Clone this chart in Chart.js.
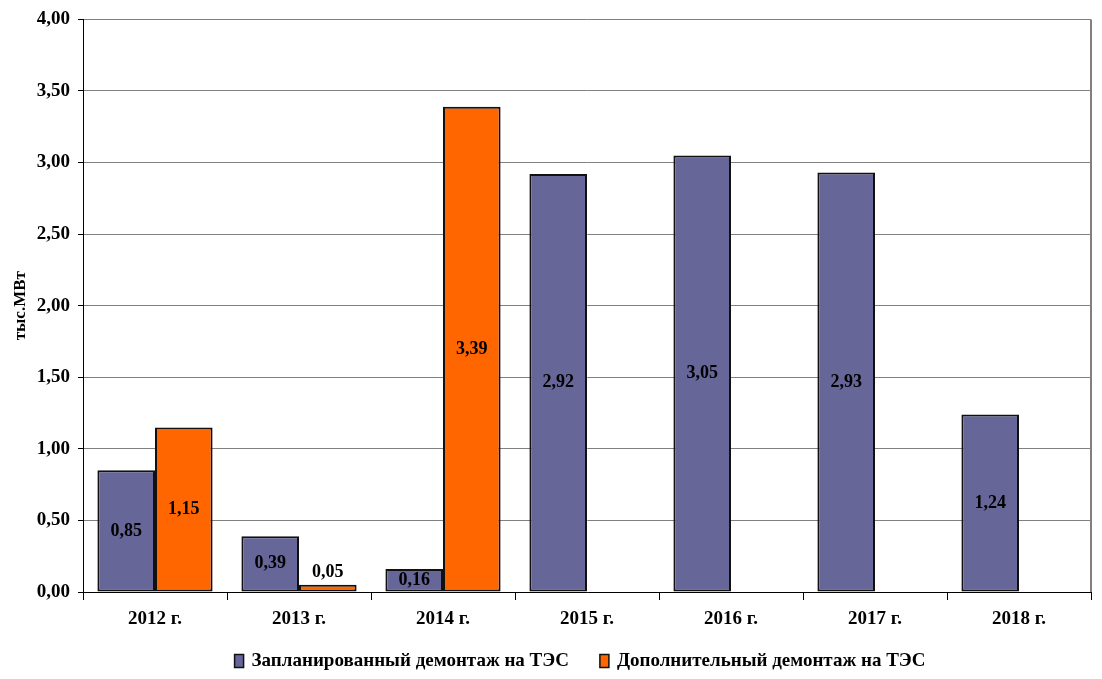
<!DOCTYPE html>
<html><head><meta charset="utf-8">
<script src="https://cdn.jsdelivr.net/npm/chart.js@4/dist/chart.umd.min.js"></script>
<style>html,body{margin:0;padding:0;background:#fff}#wrap{width:1102px;height:679px}</style>
</head><body><div id="wrap"><canvas id="c"></canvas></div>
<script>
const categories = ["2012 г.","2013 г.","2014 г.","2015 г.","2016 г.","2017 г.","2018 г."];
const plannedValues = [0.85,0.39,0.16,2.92,3.05,2.93,1.24];
const extraValues = [1.15,0.05,3.39,null,null,null,null];
const seriesNames = ["Запланированный демонтаж на ТЭС","Дополнительный демонтаж на ТЭС"];
const yTitle = "тыс.МВт";

const fmt = v => v.toFixed(2).replace('.', ',');
const FONT = "'Liberation Serif','Times New Roman',serif";

const labelPlugin = {
  id:'labels',
  afterDatasetsDraw(chart){
    const ctx = chart.ctx;
    ctx.save();
    ctx.font = "bold 18px " + FONT;
    ctx.fillStyle = "#000";
    ctx.textAlign = "center";
    chart.data.datasets.forEach((ds,i)=>{
      const meta = chart.getDatasetMeta(i);
      meta.data.forEach((bar,j)=>{
        const v = ds.data[j];
        if (v==null) return;
        const h = bar.base - bar.y;
        let y;
        if (h < 20) { ctx.textBaseline="bottom"; y = bar.y - 3; }
        else { ctx.textBaseline="middle"; y = (bar.y+bar.base)/2; }
        ctx.fillText(fmt(v), bar.x, y);
      });
    });
    ctx.restore();
  }
};
const borderPlugin = {
  id:'rb',
  afterDraw(chart){
    const a = chart.chartArea, ctx = chart.ctx;
    ctx.save();
    ctx.strokeStyle="#808080"; ctx.lineWidth=2;
    ctx.beginPath(); ctx.moveTo(a.right, a.top); ctx.lineTo(a.right, a.bottom); ctx.stroke();
    ctx.restore();
  }
};
const legendPlugin = {
  id:'customLegend',
  afterDraw(chart){
    const ctx = chart.ctx, a = chart.chartArea;
    ctx.save();
    ctx.font = "bold 19px " + FONT;
    ctx.textBaseline = "middle";
    ctx.textAlign = "left";
    const boxW = 9, boxH = 13, gap = 8, spacing = 31;
    const items = chart.data.datasets.map(ds => ({text: ds.label, color: ds.backgroundColor, w: ctx.measureText(ds.label).width}));
    let total = 0;
    items.forEach((it,i)=>{ total += boxW + gap + it.w + (i? spacing:0); });
    let x = (a.left + a.right)/2 - 7 - total/2;
    const yc = 661;
    items.forEach((it)=>{
      ctx.fillStyle = it.color;
      ctx.fillRect(x, yc - boxH/2, boxW, boxH);
      ctx.strokeStyle = "#111"; ctx.lineWidth = 1.5;
      ctx.strokeRect(x, yc - boxH/2, boxW, boxH);
      ctx.fillStyle = "#000";
      ctx.fillText(it.text, x + boxW + gap, yc);
      x += boxW + gap + it.w + spacing;
    });
    ctx.restore();
  }
};

new Chart(document.getElementById('c'), {
  type:'bar',
  data:{
    labels: categories,
    datasets:[
      {label:seriesNames[0], data:plannedValues, backgroundColor:"#666699", borderColor:"#111", borderWidth:2, borderSkipped:false},
      {label:seriesNames[1], data:extraValues, backgroundColor:"#FF6600", borderColor:"#111", borderWidth:2, borderSkipped:false}
    ]
  },
  options:{
    responsive:true, maintainAspectRatio:false, animation:false,
    layout:{padding:{left:10,right:11,top:18,bottom:37}},
    datasets:{bar:{categoryPercentage:0.8,barPercentage:1.0}},
    plugins:{
      legend:{display:false},
      tooltip:{enabled:false}
    },
    scales:{
      x:{
        afterFit(s){ s.height = 50; },
        grid:{display:true,drawOnChartArea:false,color:'#000',tickLength:8,offset:true},
        border:{color:'#000',width:1},
        ticks:{font:{family:FONT,size:19,weight:'bold'},color:'#000',padding:8}
      },
      y:{
        min:0,max:4,
        afterFit(s){ s.width = 73; },
        grid:{color:'#808080',tickColor:'#000',tickLength:5},
        border:{color:'#000',width:1},
        ticks:{stepSize:0.5,callback:v=>fmt(v),font:{family:FONT,size:19,weight:'bold'},color:'#000',padding:8},
        title:{display:true,text:yTitle,font:{family:FONT,size:17,weight:'bold'},color:'#000',padding:{top:0,bottom:0}}
      }
    }
  },
  plugins:[labelPlugin,borderPlugin,legendPlugin]
});
</script></body></html>
